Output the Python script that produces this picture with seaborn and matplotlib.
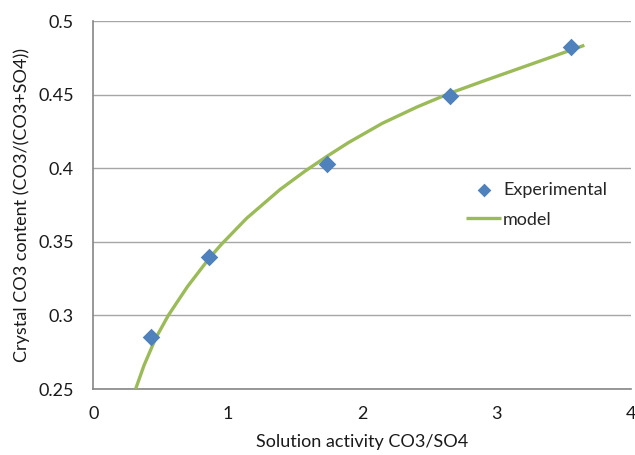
import matplotlib
matplotlib.use("Agg")
import matplotlib.pyplot as plt
import seaborn as sns
import pandas as pd

exp_x = [0.43, 0.86, 1.74, 2.65, 3.55]
exp_y = [0.285, 0.340, 0.403, 0.449, 0.482]

model_x = [0.315, 0.377, 0.464, 0.558, 0.70, 0.864, 0.95, 1.141, 1.389, 1.575,
           1.737, 1.90, 2.15, 2.406, 2.654, 2.902, 3.15, 3.398, 3.653]
model_y = [0.25, 0.266, 0.2845, 0.30, 0.3195, 0.339, 0.348, 0.366, 0.3855, 0.398,
           0.408, 0.4175, 0.4305, 0.4415, 0.451, 0.4592, 0.4672, 0.4752, 0.4835]

x_ticks = [0, 1, 2, 3, 4]
y_ticks = [0.25, 0.3, 0.35, 0.4, 0.45, 0.5]
y_tick_labels = ["0.25", "0.3", "0.35", "0.4", "0.45", "0.5"]

sns.set_theme(style="white")
plt.rcParams['font.family'] = ['Lato', 'DejaVu Sans']

fig = plt.figure(figsize=(6.35, 4.55), dpi=100)
ax = fig.add_axes([93.3/635, 1-389/455, (631-93.3)/635, (389-21)/455])

df_model = pd.DataFrame({"x": model_x, "y": model_y})
df_exp = pd.DataFrame({"x": exp_x, "y": exp_y})

sns.lineplot(data=df_model, x="x", y="y", ax=ax, color="#9BBB59", linewidth=2.4,
             sort=False, estimator=None, label="model", zorder=3,
             solid_joinstyle="round", solid_capstyle="butt")
sns.scatterplot(data=df_exp, x="x", y="y", ax=ax, marker="D", s=80, color="#4F81BD",
                edgecolor="#4F81BD", linewidth=0, label="Experimental", zorder=4)

ax.set_xlim(0, 4)
ax.set_ylim(0.25, 0.5)
ax.set_xticks(x_ticks)
ax.set_yticks(y_ticks)
ax.set_yticklabels(y_tick_labels)
ax.grid(axis="y", color="#A6A6A6", linewidth=1.0)
ax.grid(axis="x", visible=False)
ax.set_axisbelow(True)

for s in ["top", "right"]:
    ax.spines[s].set_visible(False)
for s in ["left", "bottom"]:
    ax.spines[s].set_color("#868686")
    ax.spines[s].set_linewidth(1.2)

ax.tick_params(axis="both", which="major", direction="out", length=5, width=1,
               color="#868686", labelsize=13, labelcolor="#1a1a1a")
ax.tick_params(axis="y", pad=9)
ax.tick_params(axis="x", pad=7)

ax.set_xlabel("Solution activity CO3/SO4", fontsize=13, color="#1a1a1a", labelpad=9)
ax.set_ylabel("Crystal CO3 content (CO3/(CO3+SO4))", fontsize=13, color="#1a1a1a", labelpad=6)

handles, labels = ax.get_legend_handles_labels()
order = [labels.index("Experimental"), labels.index("model")]
leg = ax.legend([handles[i] for i in order], [labels[i] for i in order],
                loc="center left", bbox_to_anchor=((459-93.3)/537.7, 1-(205-21)/368),
                frameon=False, fontsize=13, handlelength=1.95, handletextpad=0.1,
                labelspacing=0.75, borderaxespad=0, markerscale=0.78)

fig.savefig("out.png", dpi=100)
